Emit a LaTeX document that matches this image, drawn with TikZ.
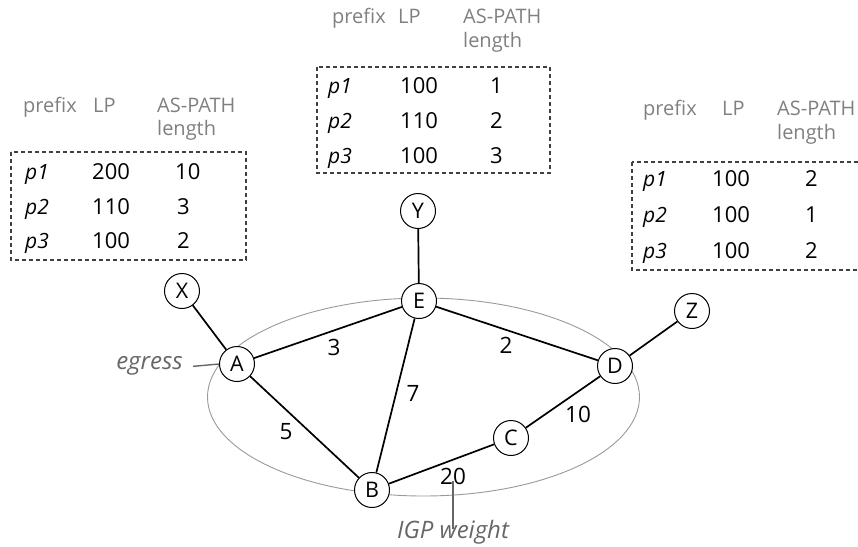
\documentclass[tikz,border=0pt]{standalone}
\usepackage{fontspec}
\setmainfont{Open Sans}
\begin{document}
\begin{tikzpicture}[x=1pt,y=-1pt,
  router/.style={circle,draw,line width=1pt,fill=white,minimum size=35pt,inner sep=0pt,font=\fontsize{21.5}{25}\selectfont},
  link/.style={line width=1.7pt},
  wlabel/.style={font=\fontsize{22.5}{26}\selectfont,inner sep=1pt},
  hdr/.style={anchor=base west,inner sep=0pt,text=black!50,font=\fontsize{20}{24}\selectfont},
  cell/.style={anchor=base west,inner sep=0pt,font=\fontsize{22}{26}\selectfont},
  pcell/.style={anchor=base west,inner sep=0pt,font=\fontsize{21}{25}\selectfont\itshape},
  tbox/.style={dash pattern=on 4pt off 3pt,line width=1.3pt,draw=black!75},
  annot/.style={text=black!60,inner sep=0pt,font=\fontsize{24}{28}\selectfont\itshape,text height=0.75em,text depth=0.22em},
  annotline/.style={draw=black!60,line width=1.4pt},
]
\useasboundingbox (0,0) rectangle (858,546);
\clip (0,0) rectangle (858,546);

% IGP domain
\draw[black!40,line width=0.9pt] (423.5,397) ellipse [x radius=216pt, y radius=99pt];

% routers
\node[router] (X) at (182,291) {X};
\node[router] (Y) at (418,211) {Y};
\node[router] (E) at (419,301) {E};
\node[router] (A) at (237,364) {A};
\node[router] (D) at (615,366) {D};
\node[router] (Z) at (692,311) {Z};
\node[router] (C) at (511,438) {C};
\node[router] (B) at (372,490) {B};

% links
\draw[link] (X) -- (A);
\draw[link] (Y) -- (E);
\draw[link] (A) -- (E);
\draw[link] (E) -- (D);
\draw[link] (E) -- (B);
\draw[link] (A) -- (B);
\draw[link] (B) -- (C);
\draw[link] (C) -- (D);
\draw[link] (D) -- (Z);

% IGP weights
\node[wlabel] (w3) at (334,347) {3};
\node[wlabel] (w2) at (506,345) {2};
\node[wlabel] (w7) at (413,393) {7};
\node[wlabel] (w5) at (286,432) {5};
\node[wlabel] (w10) at (578,414) {10};
\node[wlabel] (w20) at (453,476) {20};

% annotations
\node[annot,anchor=base east] (egress) at (183,369) {egress};
\draw[annotline] ([xshift=10pt]egress.east) -- (A.west);
\node[annot,anchor=base] (igp) at (453,538.5) {IGP weight};
\draw[annotline,shorten >=2pt] ([yshift=4pt]w20.south) -- (igp.north);

% left table (at A)
\node[hdr] (lh1) at (23,112) {prefix};
\node[hdr] (lh2) at (93,112) {LP};
\node[hdr] (lh3) at (157,112) {AS-PATH};
\node[hdr] (lh4) at (157,135) {length};
\draw[tbox] (11,152) rectangle (246,260);
\node[pcell] (lp1) at (25,179.5) {p1};
\node[cell] (ll1) at (92,179.5) {200};
\node[cell] (la1) at (175,179.5) {10};
\node[pcell] (lp2) at (25,214.5) {p2};
\node[cell] (ll2) at (92,214.5) {110};
\node[cell] (la2) at (177,214.5) {3};
\node[pcell] (lp3) at (25,248.5) {p3};
\node[cell] (ll3) at (92,248.5) {100};
\node[cell] (la3) at (177,248.5) {2};

% top table (at E)
\node[hdr] (th1) at (332,23) {prefix};
\node[hdr] (th2) at (398,23) {LP};
\node[hdr] (th3) at (463,23) {AS-PATH};
\node[hdr] (th4) at (463,47) {length};
\draw[tbox] (317,67) rectangle (550,173);
\node[pcell] (tp1) at (328,93.5) {p1};
\node[cell] (tl1) at (400,93.5) {100};
\node[cell] (ta1) at (490,93.5) {1};
\node[pcell] (tp2) at (328,128.5) {p2};
\node[cell] (tl2) at (400,128.5) {110};
\node[cell] (ta2) at (490,128.5) {2};
\node[pcell] (tp3) at (328,163.5) {p3};
\node[cell] (tl3) at (400,163.5) {100};
\node[cell] (ta3) at (490,163.5) {3};

% right table (at D)
\node[hdr] (rh1) at (643,115) {prefix};
\node[hdr] (rh2) at (722,115) {LP};
\node[hdr] (rh3) at (777,115) {AS-PATH};
\node[hdr] (rh4) at (777,139) {length};
\draw[tbox] (632,162) rectangle (875,270);
\node[pcell] (rp1) at (643,186.5) {p1};
\node[cell] (rl1) at (712,186.5) {100};
\node[cell] (ra1) at (805,186.5) {2};
\node[pcell] (rp2) at (643,222.5) {p2};
\node[cell] (rl2) at (712,222.5) {100};
\node[cell] (ra2) at (805,222.5) {1};
\node[pcell] (rp3) at (643,258.5) {p3};
\node[cell] (rl3) at (712,258.5) {100};
\node[cell] (ra3) at (805,258.5) {2};
\end{tikzpicture}
\end{document}
